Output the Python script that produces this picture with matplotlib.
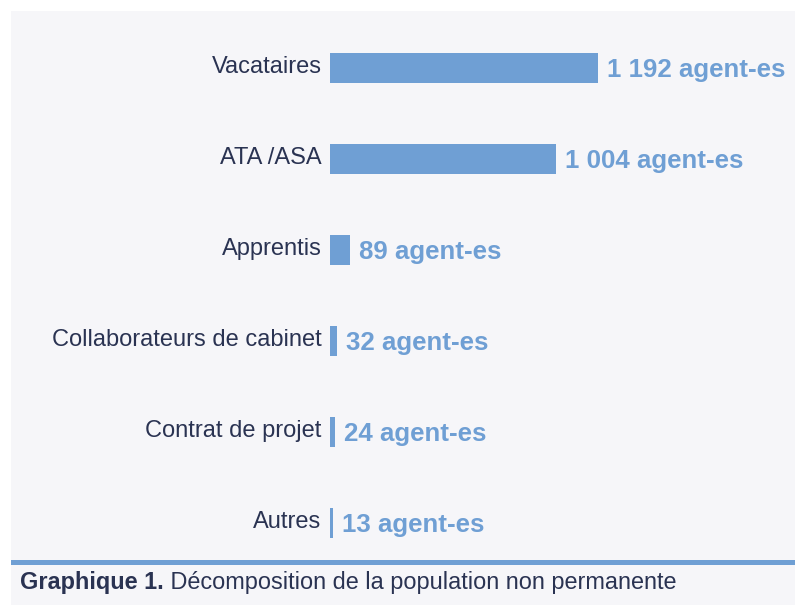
import matplotlib
matplotlib.use('Agg')
import matplotlib.pyplot as plt
from matplotlib.patches import Rectangle

plt.rcParams['font.family'] = ['Liberation Sans', 'DejaVu Sans']

categories = ['Vacataires', 'ATA /ASA', 'Apprentis', 'Collaborateurs de cabinet',
              'Contrat de projet', 'Autres']
values = [1192, 1004, 89, 32, 24, 13]
value_labels = ['1 192 agent-es', '1 004 agent-es', '89 agent-es', '32 agent-es',
                '24 agent-es', '13 agent-es']
caption_bold = 'Graphique 1.'
caption_text = ' Décomposition de la population non permanente'

blue = '#6f9fd4'
navy = '#2a3352'
panel = '#f6f6f9'

W, H = 795, 605
fig = plt.figure(figsize=(W / 100, H / 100), dpi=100)
fig.patch.set_facecolor('white')

# gray panel + blue rule
fig.patches.append(Rectangle((11 / W, 0), 1 - 11 / W, 1 - 11 / H, transform=fig.transFigure,
                             facecolor=panel, edgecolor='none', zorder=-2))
fig.patches.append(Rectangle((11 / W, 1 - 565 / H), 1 - 11 / W, 5 / H, transform=fig.transFigure,
                             facecolor=blue, edgecolor='none', zorder=-1))

# axes: left at 330px, rows every 91px centred at 68px from top
left, top, row = 330, 68 - 45.5, 91
ax = fig.add_axes([left / W, 1 - (top + 6 * row) / H, (W - left) / W, 6 * row / H])
ax.set_zorder(2)
ax.set_facecolor('none')
px_per_unit = 268 / 1192
ax.set_xlim(0, (W - left) / px_per_unit)
ax.set_ylim(5.5, -0.5)

ypos = list(range(len(categories)))
ax.barh(ypos, values, height=30 / row, color=blue, edgecolor='none')
for y, v, lab in zip(ypos, values, value_labels):
    ax.annotate(lab, (v, y), xytext=(6.5, -1.5), textcoords='offset points',
                ha='left', va='center', fontsize=18.6, fontweight='bold', color=blue,
                annotation_clip=False)
    ax.annotate(categories[y], (0, y), xytext=(-6, 1), textcoords='offset points',
                ha='right', va='center', fontsize=17, color=navy,
                annotation_clip=False)

ax.set_yticks([])
ax.tick_params(axis='x', bottom=False, labelbottom=False)
for s in ax.spines.values():
    s.set_visible(False)

# caption
t1 = fig.text(20 / W, 1 - 583 / H, caption_bold, fontsize=16.9, fontweight='bold',
              color=navy, va='center', ha='left')
fig.canvas.draw()
bb = t1.get_window_extent()
fig.text(bb.x1 / W, 1 - 583 / H, caption_text, fontsize=16.9, color=navy,
         va='center', ha='left')

fig.savefig('out.png', dpi=100, facecolor=fig.get_facecolor())
